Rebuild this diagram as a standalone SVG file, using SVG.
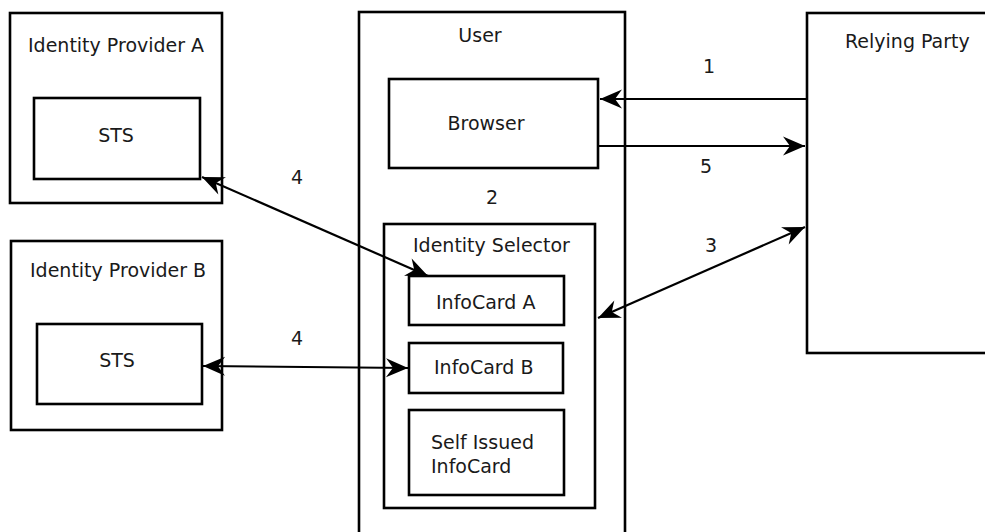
<svg xmlns="http://www.w3.org/2000/svg" width="985" height="532" viewBox="0 0 985 532">
  <style>
    .box { fill: none; stroke: #000; stroke-width: 2.6; }
    .lbl { font-family: "DejaVu Sans", "Liberation Sans", sans-serif; font-size: 19px; fill: #1a1a1a; }
    .mid { text-anchor: middle; }
    .conn { fill: none; stroke: #000; stroke-width: 2.2; }
  </style>
  <defs>
    <marker id="head" viewBox="-24 -12 26 24" markerWidth="26" markerHeight="24" refX="0" refY="0" markerUnits="userSpaceOnUse" orient="auto-start-reverse">
      <path d="M0,0 L-22,-9.5 L-15,0 L-22,9.5 Z" fill="#000"/>
    </marker>
  </defs>
  <rect width="985" height="532" fill="#fff"/>

  <!-- Identity Provider A -->
  <g id="idp-a">
    <rect class="box" x="10" y="13" width="212" height="190"/>
    <text class="lbl" x="28" y="52">Identity Provider A</text>
    <g id="sts-a">
      <rect class="box" x="34" y="98" width="166" height="81"/>
      <text class="lbl mid" x="116" y="142">STS</text>
    </g>
  </g>

  <!-- Identity Provider B -->
  <g id="idp-b">
    <rect class="box" x="11" y="241" width="211" height="189"/>
    <text class="lbl" x="30" y="277">Identity Provider B</text>
    <g id="sts-b">
      <rect class="box" x="37" y="324" width="165" height="80"/>
      <text class="lbl mid" x="117" y="367">STS</text>
    </g>
  </g>

  <!-- User -->
  <g id="user">
    <rect class="box" x="359" y="12" width="266" height="540"/>
    <text class="lbl mid" x="480" y="42">User</text>
    <g id="browser">
      <rect class="box" x="389" y="79" width="209" height="89"/>
      <text class="lbl mid" x="486" y="130">Browser</text>
    </g>
    <g id="identity-selector">
      <rect class="box" x="384" y="224" width="211" height="284"/>
      <text class="lbl" x="413" y="252">Identity Selector</text>
      <g id="infocard-a">
        <rect class="box" x="409" y="276" width="155" height="49"/>
        <text class="lbl" x="436" y="309">InfoCard A</text>
      </g>
      <g id="infocard-b">
        <rect class="box" x="409" y="343" width="154" height="50"/>
        <text class="lbl" x="434" y="374">InfoCard B</text>
      </g>
      <g id="self-issued">
        <rect class="box" x="409" y="410" width="155" height="85"/>
        <text class="lbl" x="431" y="449">Self Issued</text>
        <text class="lbl" x="431" y="473">InfoCard</text>
      </g>
    </g>
  </g>

  <!-- Relying Party -->
  <g id="relying-party">
    <rect class="box" x="807" y="13" width="200" height="340"/>
    <text class="lbl" x="845" y="48">Relying Party</text>
  </g>

  <!-- Connectors -->
  <g id="connectors">
    <line class="conn" x1="807" y1="99" x2="600" y2="99" marker-end="url(#head)"/>
    <line class="conn" x1="598" y1="146" x2="805" y2="146" marker-end="url(#head)"/>
    <line class="conn" x1="598" y1="318" x2="805" y2="227" marker-start="url(#head)" marker-end="url(#head)"/>
    <line class="conn" x1="202" y1="177" x2="428" y2="276" marker-start="url(#head)" marker-end="url(#head)"/>
    <line class="conn" x1="203" y1="366" x2="408" y2="368" marker-start="url(#head)" marker-end="url(#head)"/>
  </g>

  <!-- Step numbers -->
  <g id="steps">
    <text class="lbl" x="703" y="73">1</text>
    <text class="lbl" x="486" y="204">2</text>
    <text class="lbl" x="705" y="252">3</text>
    <text class="lbl" x="291" y="184">4</text>
    <text class="lbl" x="291" y="345">4</text>
    <text class="lbl" x="700" y="173">5</text>
  </g>
</svg>
